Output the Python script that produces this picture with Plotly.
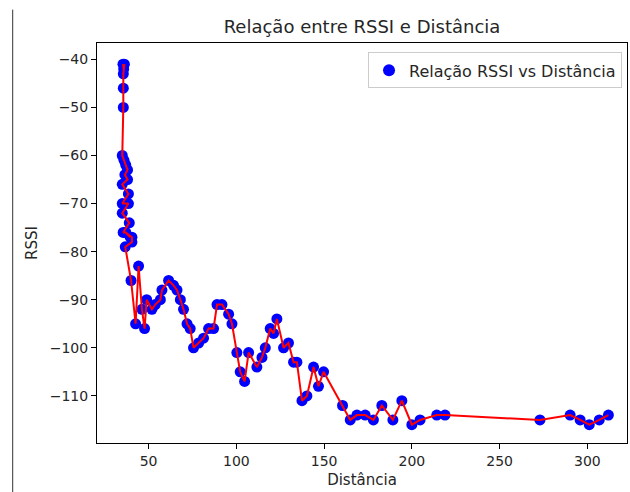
import plotly.graph_objects as go

distancia = [35.4, 35.8, 36.2, 35.6, 35.6, 35.6, 35.0, 36.0, 37.0, 38.0, 36.5, 38.0, 35.0, 38.5, 35.0,
             38.5, 35.0, 39.0, 35.5, 37.0, 39.5, 36.8, 40.5, 40.5, 36.7, 40.0, 42.6, 44.3, 46.2, 47.7,
             48.9, 51.9, 53.8, 56.7, 57.6, 61.4, 64.2, 66.2, 68.1, 69.9, 71.9, 73.7, 75.6, 78.5, 81.3,
             84.2, 87.0, 89.0, 91.8, 95.6, 97.5, 100.3, 102.2, 104.7, 107.0, 111.7, 114.6, 116.5, 119.3,
             121.2, 123.1, 126.9, 129.7, 132.6, 134.5, 137.4, 140.2, 144.0, 146.8, 149.7, 160.5, 164.9,
             168.7, 173.4, 178.1, 182.9, 189.2, 194.3, 200.0, 204.7, 214.2, 218.9, 273.0, 290.2, 295.9,
             301.1, 306.8, 312.0]
rssi = [-41, -42, -41, -43, -46, -50, -60, -61, -62, -63, -64, -65, -66, -68, -70,
        -70, -72, -74, -76, -76, -77, -76, -77, -78, -79, -86, -95, -83, -92, -96,
        -90, -92, -91, -90, -88, -86, -87, -88, -90, -92, -95, -96, -100, -99, -98,
        -96, -96, -91, -91, -93, -95, -101, -105, -107, -101, -104, -102, -100, -96,
        -97, -94, -100, -99, -103, -103, -111, -110, -104, -108, -105, -112, -115,
        -114, -114, -115, -112, -115, -111, -116, -115, -114, -114, -115, -114, -115,
        -116, -115, -114]

titulo = "Relação entre RSSI e Distância"
legenda = "Relação RSSI vs Distância"
rotulo_x = "Distância"
rotulo_y = "RSSI"
ticks_x = [50, 100, 150, 200, 250, 300]
ticks_y = [-40, -50, -60, -70, -80, -90, -100, -110]

FONT = "DejaVu Sans"
TXT = "#262626"

fig = go.Figure()
fig.add_trace(go.Scatter(
    x=distancia, y=rssi, mode="markers", name=legenda,
    marker=dict(color="#0000ff", size=11, line=dict(width=0)),
))
fig.add_trace(go.Scatter(
    x=distancia, y=rssi, mode="lines", showlegend=False,
    line=dict(color="#ff0000", width=2),
))

fig.update_layout(
    width=630, height=492,
    margin=dict(l=97, r=3, t=43, b=49),
    paper_bgcolor="white", plot_bgcolor="white",
    font=dict(family=FONT, size=14, color=TXT),
    title=dict(text=titulo, x=(97 + 627) / 2 / 630, xanchor="center",
               y=1 - 27 / 492, yanchor="middle",
               font=dict(family=FONT, size=18, color=TXT)),
    showlegend=True,
    legend=dict(x=0.9906, xanchor="right", y=0.9765, yanchor="top",
                bgcolor="rgba(255,255,255,0.8)", bordercolor="#cccccc", borderwidth=1,
                font=dict(family=FONT, size=16, color=TXT),
                itemsizing="constant"),
    xaxis=dict(range=[20.6, 322.6], tickvals=ticks_x, ticks="outside", ticklen=5,
               tickcolor="black", showline=True, linecolor="black", linewidth=1,
               mirror=True, showgrid=False, zeroline=False,
               title=dict(text=rotulo_x, standoff=6, font=dict(size=15, color=TXT)),
               tickfont=dict(size=14, color=TXT)),
    yaxis=dict(range=[-119.8, -36.6], tickvals=ticks_y, ticks="outside", ticklen=5,
               tickcolor="black", showline=True, linecolor="black", linewidth=1,
               mirror=True, showgrid=False, zeroline=False,
               title=dict(text=rotulo_y, standoff=8, font=dict(size=15, color=TXT)),
               tickfont=dict(size=14, color=TXT)),
)

# left border line of the original screenshot
fig.add_shape(type="line", xref="paper", yref="paper",
              x0=(12.7 - 97) / 530, x1=(12.7 - 97) / 530,
              y0=(442.7 - 492) / 399.4, y1=(442.7 - 10) / 399.4,
              line=dict(color="#333333", width=1))

fig.write_html("out.html", config={"displayModeBar": False},
               post_script="document.body.style.margin='0';")
